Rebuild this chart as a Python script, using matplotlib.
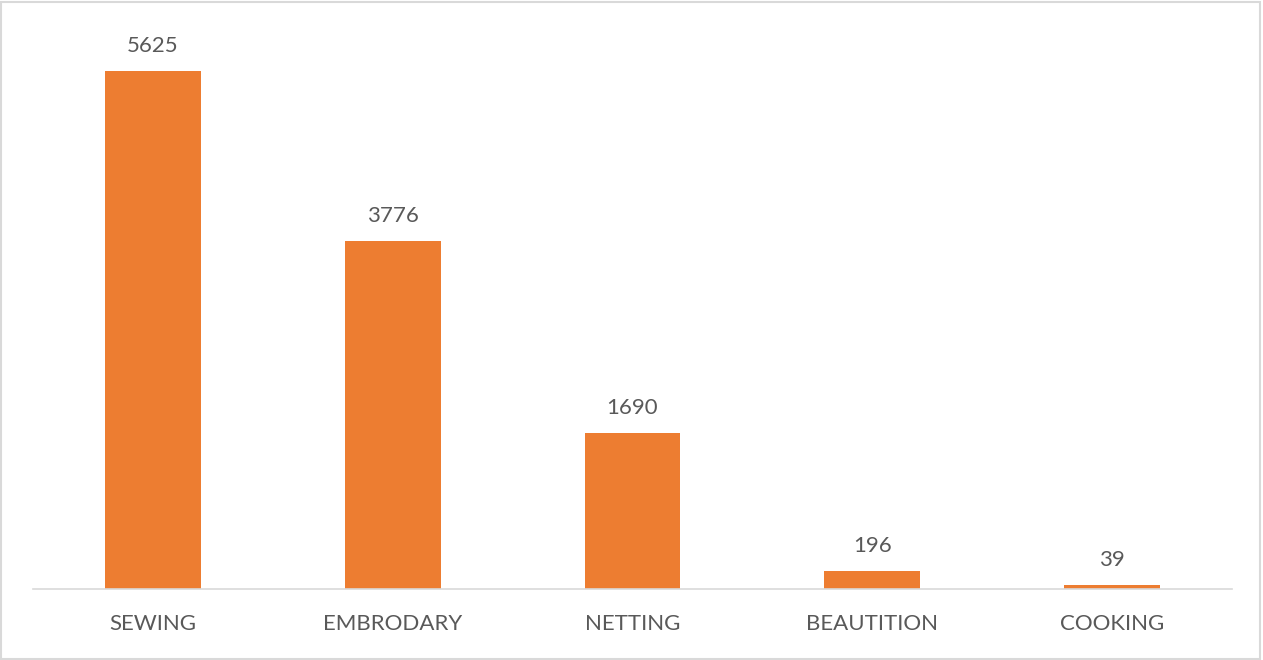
import matplotlib.pyplot as plt
from matplotlib.patches import Rectangle

categorias = ['SEWING', 'EMBRODARY', 'NETTING', 'BEAUTITION', 'COOKING']
valores = [5625, 3776, 1690, 196, 39]

plt.rcParams['font.family'] = ['Lato', 'DejaVu Sans']

fig = plt.figure(figsize=(12.63, 6.60), dpi=100)
ax = fig.add_axes([33/1263, (660-589)/660, (1232-33)/1263, (589-36)/660])

x = range(len(categorias))
barras = ax.bar(x, valores, width=0.40, color='#ED7D31')

for b, v in zip(barras, valores):
    ax.annotate(str(v), (b.get_x() + b.get_width()/2, v), xytext=(0, 18),
                textcoords='offset points', ha='center', va='center',
                fontsize=16, color='#595959')

ax.set_xlim(-0.5, len(categorias) - 0.5)
ax.set_ylim(0, 6000)
ax.set_xticks(list(x))
ax.set_xticklabels(categorias, fontsize=16, color='#595959')
ax.tick_params(axis='x', length=0, pad=18)
ax.set_yticks([])
for s in ['top', 'left', 'right']:
    ax.spines[s].set_visible(False)
ax.spines['bottom'].set_color('#D9D9D9')
ax.spines['bottom'].set_linewidth(1.2)

# borda do grafico
fig.patches.append(Rectangle((0.001, 0.002), 0.997, 0.995, transform=fig.transFigure,
                             fill=False, edgecolor='#D9D9D9', linewidth=1.5))

fig.savefig('out.png', dpi=100)
